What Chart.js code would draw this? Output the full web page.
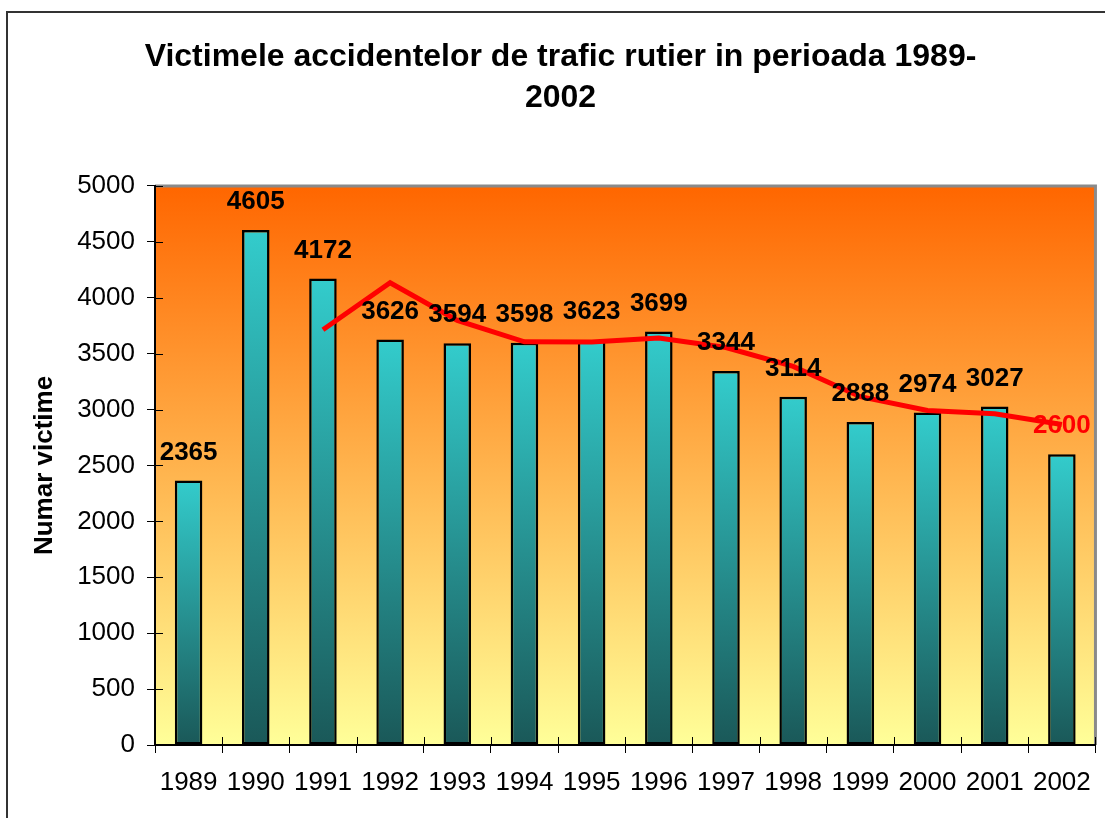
<!DOCTYPE html>
<html>
<head>
<meta charset="utf-8">
<script src="https://cdn.jsdelivr.net/npm/chart.js@4/dist/chart.umd.min.js"></script>
<style>
  body { margin: 0; background: #fff; }
  canvas { display: block; }
</style>
</head>
<body>
<canvas id="chart" width="1105" height="818"></canvas>
<script>
const years = ["1989", "1990", "1991", "1992", "1993", "1994", "1995", "1996", "1997", "1998", "1999", "2000", "2001", "2002"];
const victims = [2365, 4605, 4172, 3626, 3594, 3598, 3623, 3699, 3344, 3114, 2888, 2974, 3027, 2600];
// red trend line (starts at 1991)
const trend = [null, null, 3714, 4134, 3797, 3606, 3605, 3640, 3555, 3386, 3115, 2992, 2963, 2867];
const yTicks = [0, 500, 1000, 1500, 2000, 2500, 3000, 3500, 4000, 4500, 5000];

const FONT = "Arial, 'Liberation Sans', sans-serif";

// background, frame and plot fill
const backgroundPlugin = {
  id: "background",
  beforeDraw(chart) {
    const { ctx, chartArea: a } = chart;
    ctx.save();
    ctx.fillStyle = "#fff";
    ctx.fillRect(0, 0, chart.width, chart.height);
    // outer frame of the chart object
    ctx.strokeStyle = "#333";
    ctx.lineWidth = 2;
    ctx.strokeRect(7, 12, chart.width + 20, chart.height + 20);
    // plot area gradient
    const g = ctx.createLinearGradient(0, a.top, 0, a.bottom);
    g.addColorStop(0, "#FF6600");
    g.addColorStop(1, "#FFFF99");
    ctx.fillStyle = g;
    ctx.fillRect(a.left, a.top, a.right - a.left, a.bottom - a.top);
    // gray border top and right
    ctx.strokeStyle = "#8a8a8a";
    ctx.lineWidth = 3;
    ctx.beginPath();
    ctx.moveTo(a.left, a.top);
    ctx.lineTo(a.right, a.top);
    ctx.lineTo(a.right, a.bottom);
    ctx.stroke();
    ctx.restore();
  },
  afterDraw(chart) {
    // inner half of the crossing tick marks
    const { ctx, chartArea: a, scales } = chart;
    ctx.save();
    ctx.strokeStyle = "#000";
    ctx.lineWidth = 1;
    ctx.beginPath();
    yTicks.forEach((v) => {
      const y = Math.round(scales.y.getPixelForValue(v)) + 0.5;
      ctx.moveTo(a.left, y);
      ctx.lineTo(a.left + 8, y);
    });
    for (let i = 0; i <= years.length; i++) {
      const x = Math.round(a.left + (a.right - a.left) * i / years.length) + 0.5;
      ctx.moveTo(x, a.bottom);
      ctx.lineTo(x, a.bottom - 8);
    }
    ctx.stroke();
    ctx.restore();
  }
};

// value labels above the bars
const labelPlugin = {
  id: "barLabels",
  afterDatasetsDraw(chart) {
    const { ctx } = chart;
    const meta = chart.getDatasetMeta(1);
    ctx.save();
    ctx.font = "bold 26px " + FONT;
    ctx.textAlign = "center";
    ctx.textBaseline = "middle";
    meta.data.forEach((bar, i) => {
      ctx.fillStyle = i === victims.length - 1 ? "#FF0000" : "#000";
      ctx.fillText(String(victims[i]), bar.x, bar.y - 28);
    });
    ctx.restore();
  }
};

function barGradient(context) {
  const chart = context.chart;
  if (!chart.chartArea || context.type !== "data") return "#33CCCC";
  const y = chart.scales.y;
  const top = y.getPixelForValue(context.raw);
  const bottom = y.getPixelForValue(0);
  const g = chart.ctx.createLinearGradient(0, top, 0, bottom);
  g.addColorStop(0, "#33CCCC");
  g.addColorStop(1, "#1A5858");
  return g;
}

new Chart(document.getElementById("chart"), {
  data: {
    labels: years,
    datasets: [
      {
        type: "line",
        label: "Trend",
        data: trend,
        borderColor: "#FF0000",
        borderWidth: 5,
        pointRadius: 0,
        tension: 0,
        order: 1,
      },
      {
        type: "bar",
        label: "Numar victime",
        data: victims,
        backgroundColor: barGradient,
        borderColor: "#000",
        borderWidth: 2.5,
        borderSkipped: false,
        barPercentage: 0.41,
        categoryPercentage: 1,
        order: 2,
      },
    ],
  },
  options: {
    responsive: false,
    animation: false,
    devicePixelRatio: 1,
    layout: { padding: { left: 22, right: 6, top: 12, bottom: 0 } },
    plugins: {
      legend: { display: false },
      tooltip: { enabled: false },
      title: {
        display: true,
        text: ["Victimele accidentelor de trafic rutier in perioada 1989-", "2002"],
        color: "#000",
        font: { family: FONT, size: 32, weight: "bold", lineHeight: 1.28 },
        padding: { top: 24.5, bottom: 67.5 },
      },
    },
    scales: {
      x: {
        offset: true,
        grid: { offset: true, drawOnChartArea: false, color: "#000", tickLength: 8 },
        border: { color: "#000", width: 2 },
        ticks: { color: "#000", font: { family: FONT, size: 26 }, padding: 14, maxRotation: 0, autoSkip: false },
        afterFit(scale) { scale.height = 73; },
      },
      y: {
        min: 0,
        max: 5000,
        grid: { drawOnChartArea: false, color: "#000", tickLength: 8 },
        border: { color: "#000", width: 2 },
        ticks: {
          stepSize: 500,
          color: "#000",
          font: { family: FONT, size: 26 },
          padding: 12,
          callback: (v) => String(v),
        },
        title: {
          display: true,
          text: "Numar victime",
          color: "#000",
          font: { family: FONT, size: 26, weight: "bold" },
          padding: { top: 7 },
        },
        afterFit(scale) { scale.width = 133; },
      },
    },
  },
  plugins: [backgroundPlugin, labelPlugin],
});
</script>
</body>
</html>
